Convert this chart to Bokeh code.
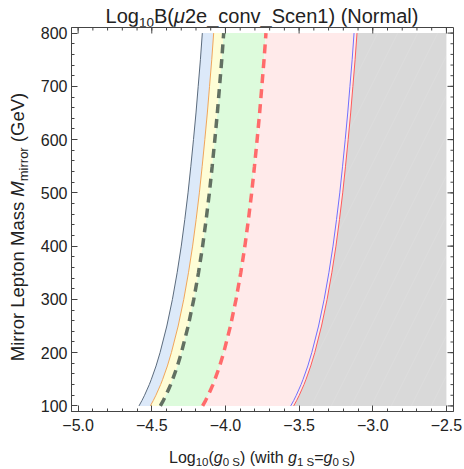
from bokeh.plotting import figure
from bokeh.models import Range1d, FixedTicker, Div
from bokeh.layouts import row, column
from bokeh.embed import file_html
from bokeh.resources import INLINE

# Mirror lepton mass (GeV)
mass = [100, 110, 120, 130, 140, 150, 175, 200, 250, 300, 350, 400, 450, 500,
        550, 600, 650, 700, 750, 800]
# Log10(g0S) contour positions, per mass value
curve_a = [-4.587, -4.567, -4.549, -4.533, -4.517, -4.503, -4.471, -4.444, -4.398, -4.360,
           -4.328, -4.300, -4.276, -4.254, -4.235, -4.217, -4.200, -4.185, -4.170, -4.157]
curve_b = [-4.510, -4.490, -4.472, -4.456, -4.440, -4.426, -4.394, -4.367, -4.321, -4.283,
           -4.251, -4.223, -4.199, -4.177, -4.158, -4.140, -4.123, -4.108, -4.093, -4.080]
curve_c = [-4.442, -4.422, -4.404, -4.388, -4.372, -4.358, -4.326, -4.299, -4.253, -4.215,
           -4.183, -4.155, -4.131, -4.109, -4.090, -4.072, -4.055, -4.040, -4.025, -4.012]
curve_d = [-4.155, -4.135, -4.117, -4.101, -4.085, -4.071, -4.039, -4.012, -3.966, -3.928,
           -3.896, -3.868, -3.844, -3.822, -3.803, -3.785, -3.768, -3.753, -3.738, -3.725]
curve_e = [-3.557, -3.537, -3.519, -3.503, -3.487, -3.473, -3.441, -3.414, -3.368, -3.330,
           -3.298, -3.270, -3.246, -3.224, -3.205, -3.187, -3.170, -3.155, -3.140, -3.127]
curve_f = [-3.537, -3.517, -3.499, -3.483, -3.467, -3.453, -3.421, -3.394, -3.348, -3.310,
           -3.278, -3.250, -3.226, -3.204, -3.185, -3.167, -3.150, -3.135, -3.120, -3.107]
x_max = [-2.5] * len(mass)

x_major = [-5.0, -4.5, -4.0, -3.5, -3.0, -2.5]
x_minor = [round(-5.0 + 0.1 * i, 2) for i in range(26)]
y_major = [100, 200, 300, 400, 500, 600, 700, 800]
y_minor = list(range(100, 801, 20))
x_labels = {v: ("\u2212%.1f" % abs(v)) for v in x_major}

title_html = ('Log<span style="font-size:13.5px;position:relative;top:4.5px">10</span>'
              'B(<i>\u03bc</i>2e_conv_Scen1) (Normal)')
xlabel_html = ('Log<span style="font-size:11.5px;position:relative;top:3.5px">10</span>'
               '(<i>g</i><span style="font-size:11.5px;position:relative;top:3.5px">0 S</span>)'
               ' (with <i>g</i><span style="font-size:11.5px;position:relative;top:3.5px">1 S</span>'
               '=<i>g</i><span style="font-size:11.5px;position:relative;top:3.5px">0 S</span>)')
ylabel_html = ('Mirror Lepton Mass <i>M</i>'
               '<span style="font-size:13px;position:relative;top:3.7px">mirror</span> (GeV)')

FONT = "Liberation Sans"
TXT = "#222222"
FRAME = "#444444"
X0, X1 = -5.045, -2.452
Y0, Y1 = 89.5, 810.5
FW, FH = 382, 384
YDIV_W = 30
TDIV_H = 26
BL, BR, BT, BB = 41, 11, 1, 30
XDIV_H = 28
SX = FW / (X1 - X0)
SY = FH / (Y1 - Y0)

p = figure(output_backend="svg", toolbar_location=None,
           frame_width=FW, frame_height=FH,
           x_range=Range1d(X0, X1), y_range=Range1d(Y0, Y1),
           min_border_left=BL, min_border_right=BR, min_border_top=BT, min_border_bottom=BB)
p.grid.visible = False
p.background_fill_color = "white"
p.outline_line_color = FRAME

# regions
p.harea(y=mass, x1=curve_a, x2=curve_b, fill_color="#dce9f9")
p.harea(y=mass, x1=curve_b, x2=curve_c, fill_color="#fefdd6")
p.harea(y=mass, x1=curve_c, x2=curve_d, fill_color="#ddfbdc")
p.harea(y=mass, x1=curve_d, x2=curve_f, fill_color="#ffeaea")
p.harea(y=mass, x1=curve_f, x2=x_max, fill_color="#d9d9d9",
        hatch_pattern="/", hatch_color="white", hatch_alpha=0.15, hatch_scale=40, hatch_weight=0.6)

# contour lines
p.line(curve_a, mass, line_color="#5b6b7d", line_width=1)
p.line(curve_b, mass, line_color="#f0a55a", line_width=1)
p.line(curve_c, mass, line_color="#627062", line_width=3.5, line_dash="9 6")
p.line(curve_d, mass, line_color="#ff6b6b", line_width=3.5, line_dash="9 6")
p.line(curve_e, mass, line_color="#7070ff", line_width=1)
p.line(curve_f, mass, line_color="#ff5a5a", line_width=1)

# ticks on the top and right frame edges (no labels)
MAJ, MIN = 6, 3
p.segment(x0=x_major, x1=x_major, y0=[Y1] * len(x_major), y1=[Y1 - MAJ / SY] * len(x_major),
          line_color=FRAME, line_width=1)
p.segment(x0=x_minor, x1=x_minor, y0=[Y1] * len(x_minor), y1=[Y1 - MIN / SY] * len(x_minor),
          line_color=FRAME, line_width=1)
p.segment(x0=[X1] * len(y_major), x1=[X1 - MAJ / SX] * len(y_major), y0=y_major, y1=y_major,
          line_color=FRAME, line_width=1)
p.segment(x0=[X1] * len(y_minor), x1=[X1 - MIN / SX] * len(y_minor), y0=y_minor, y1=y_minor,
          line_color=FRAME, line_width=1)

for ax in (p.xaxis[0], p.yaxis[0]):
    ax.axis_line_color = FRAME
    ax.major_tick_line_color = FRAME
    ax.minor_tick_line_color = FRAME
    ax.major_tick_in = MAJ
    ax.major_tick_out = 0
    ax.minor_tick_in = MIN
    ax.minor_tick_out = 0
    ax.major_label_text_font = FONT
    ax.major_label_text_font_size = "16px"
    ax.major_label_text_color = TXT

p.xaxis.ticker = FixedTicker(ticks=x_major, minor_ticks=x_minor)
p.yaxis.ticker = FixedTicker(ticks=y_major, minor_ticks=y_minor)
p.xaxis.major_label_overrides = x_labels
p.xaxis.major_label_standoff = 7
p.yaxis.major_label_standoff = 4

COL_W = BL + FW + BR
FIG_H = BT + FH + BB
TOTAL_H = TDIV_H + FIG_H + XDIV_H
frame_cx = BL + FW / 2          # frame centre x inside the right column
frame_cy = TDIV_H + BT + FH / 2  # frame centre y on the page

base_css = "position:absolute;white-space:nowrap;font-family:'Liberation Sans';color:%s;line-height:1;" % TXT

def span(html, size, left, top, transform):
    return ('<div style="%sfont-size:%.1fpx;left:%.1fpx;top:%.1fpx;transform:%s;">%s</div>'
            % (base_css, size, left, top, transform, html))

# title: baseline at page y 22.5
tdiv = Div(text=span(title_html, 20, frame_cx, 22.5 - 0.8465 * 20, "translateX(-50%)"),
           width=COL_W, height=TDIV_H, margin=0)
# x label: baseline at page y 463
xdiv = Div(text=span(xlabel_html, 16, frame_cx, (463 - TDIV_H - FIG_H) - 0.8465 * 16,
                     "translateX(-50%)"),
           width=COL_W, height=XDIV_H, margin=0)
# y label: rotated, baseline at page x 24.3
YS = 18.5
ydiv = Div(text=span(ylabel_html, YS, 24.3 - (0.8465 - 0.5) * YS, frame_cy + 8,
                     "translate(-50%,-50%) rotate(-90deg)"),
           width=YDIV_W, height=TOTAL_H, margin=0)

layout = row(ydiv, column(tdiv, p, xdiv, spacing=0), spacing=0)

open("out.html", "w").write(file_html(layout, INLINE))
